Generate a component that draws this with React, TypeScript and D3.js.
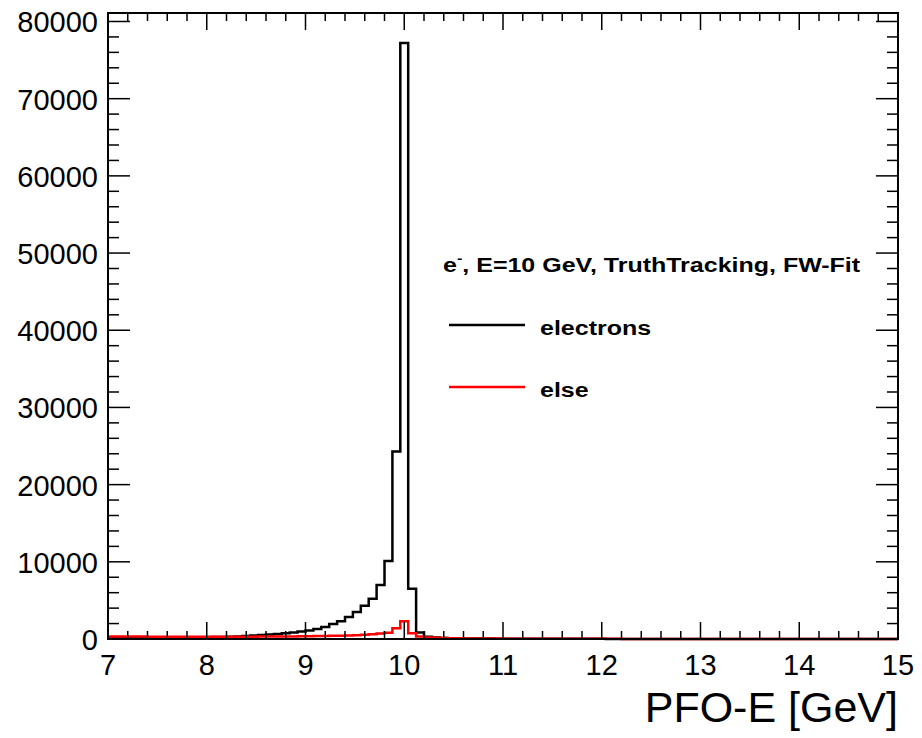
import React from "react";
import * as d3 from "d3";

const binLow = 7;
const binHigh = 15;
const nBins = 100;

const electrons: number[] = [
  130, 135, 140, 145, 150, 155, 160, 170, 180, 190,
  200, 215, 230, 250, 270, 300, 340, 390, 450, 510,
  580, 660, 750, 850, 960, 1100, 1300, 1550, 1950, 2300,
  2850, 3500, 4300, 5200, 7000, 10100, 24300, 77200, 6500, 850,
  300, 180, 130,
  100, 85, 75, 65, 58, 52, 46, 42, 38, 35, 32, 30, 28, 26, 24, 22, 20, 19, 18, 17,
  16, 15, 14, 13, 12, 12, 11, 11, 10, 10, 9, 9, 8, 8, 8, 7, 7, 7, 6, 6, 6, 5, 5, 5,
  5, 4, 4, 4, 4, 3, 3, 3, 3, 3, 2, 2, 2,
];

const others: number[] = [
  330, 325, 320, 315, 310, 305, 300, 300, 295, 295,
  290, 290, 290, 290, 295, 295, 300, 300, 305, 310,
  315, 320, 330, 340, 350, 360, 375, 390, 410, 430,
  460, 500, 550, 620, 700, 800, 1400, 2300, 750, 320,
  200, 150, 120,
  100, 90, 80, 72, 65, 58, 52, 47, 43, 40, 37, 34, 31, 29, 27, 25, 23, 21, 20, 19,
  18, 17, 16, 15, 14, 13, 12, 12, 11, 11, 10, 10, 9, 9, 9, 8, 8, 8, 7, 7, 7, 6, 6, 6,
  6, 5, 5, 5, 5, 4, 4, 4, 4, 4, 3, 3, 3,
];

const xTicks = [7, 8, 9, 10, 11, 12, 13, 14, 15];
const yTicks = [0, 10000, 20000, 30000, 40000, 50000, 60000, 70000, 80000];
const yMax = 81100;

const legendTitle = "E=10 GeV, TruthTracking, FW-Fit";
const seriesNames = ["electrons", "else"];
const seriesColors = ["#000000", "#ff0000"];

const FONT = "'Liberation Sans', Arial, Helvetica, sans-serif";

export default function App() {
  const W = 922;
  const H = 738;
  const L = 108, R = 898, T = 13, B = 639;
  const x = d3.scaleLinear().domain([binLow, binHigh]).range([L, R]);
  const y = d3.scaleLinear().domain([0, yMax]).range([B, T]);
  const bw = (binHigh - binLow) / nBins;

  const stepPath = (vals: number[]) => {
    const pts: [number, number][] = [];
    vals.forEach((v, i) => {
      const x0 = binLow + i * bw;
      const x1 = binLow + (i + 1) * bw;
      pts.push([x(x0), y(v)]);
      pts.push([x(x1), y(v)]);
    });
    return d3.line()(pts) as string;
  };

  const xMinor: number[] = [];
  for (let i = 0; i <= 40; i++) xMinor.push(binLow + i * 0.2);
  const yMinor: number[] = [];
  for (let v = 0; v <= 80000; v += 2000) yMinor.push(v);

  const series = [electrons, others];
  const sx = 1.25;

  return (
    <svg
      width={W}
      height={H}
      style={{ position: "absolute", left: 0, top: 0, background: "#fff" }}
      xmlns="http://www.w3.org/2000/svg"
    >
      <rect x={0} y={0} width={W} height={H} fill="#fff" />
      {series.map((s, i) => (
        <path
          key={i}
          d={stepPath(s)}
          fill="none"
          stroke={seriesColors[i]}
          strokeWidth={2.5}
          strokeLinejoin="miter"
        />
      ))}
      <rect x={L} y={T} width={R - L} height={B - T} fill="none" stroke="#000" strokeWidth={2} />
      {xMinor.map((v, i) => {
        const major = Math.abs(v - Math.round(v)) < 1e-6;
        const len = major ? 17 : 8;
        const px = x(v);
        return (
          <g key={"xt" + i}>
            <line x1={px} x2={px} y1={B} y2={B - len} stroke="#000" strokeWidth={1.5} />
            <line x1={px} x2={px} y1={T} y2={T + len} stroke="#000" strokeWidth={1.5} />
          </g>
        );
      })}
      {yMinor.map((v, i) => {
        const major = v % 10000 === 0;
        const len = major ? 22 : 11;
        const py = y(v);
        return (
          <g key={"yt" + i}>
            <line x1={L} x2={L + len} y1={py} y2={py} stroke="#000" strokeWidth={1.5} />
            <line x1={R} x2={R - len} y1={py} y2={py} stroke="#000" strokeWidth={1.5} />
          </g>
        );
      })}
      {xTicks.map((v) => (
        <text key={"xl" + v} x={x(v)} y={675} fontFamily={FONT} fontSize={29} textAnchor="middle" fill="#000">
          {v}
        </text>
      ))}
      {yTicks.map((v) => (
        <text key={"yl" + v} x={98} y={y(v) + 11} fontFamily={FONT} fontSize={29} textAnchor="end" fill="#000">
          {v}
        </text>
      ))}
      <text x={R} y={722} fontFamily={FONT} fontSize={43} textAnchor="end" fill="#000">
        PFO-E [GeV]
      </text>
      <text
        transform={`translate(443,272) scale(${sx},1)`}
        fontFamily={FONT}
        fontSize={20}
        fontWeight="bold"
        fill="#000"
      >
        e<tspan dy={-9} fontSize={13}>-</tspan>
        <tspan dy={9}>, {legendTitle}</tspan>
      </text>
      {seriesNames.map((n, i) => (
        <g key={n}>
          <line x1={449} x2={525} y1={325 + i * 62} y2={325 + i * 62} stroke={seriesColors[i]} strokeWidth={2.5} />
          <text
            transform={`translate(540,${335 + i * 62}) scale(${sx},1)`}
            fontFamily={FONT}
            fontSize={20}
            fontWeight="bold"
            fill="#000"
          >
            {n}
          </text>
        </g>
      ))}
    </svg>
  );
}
